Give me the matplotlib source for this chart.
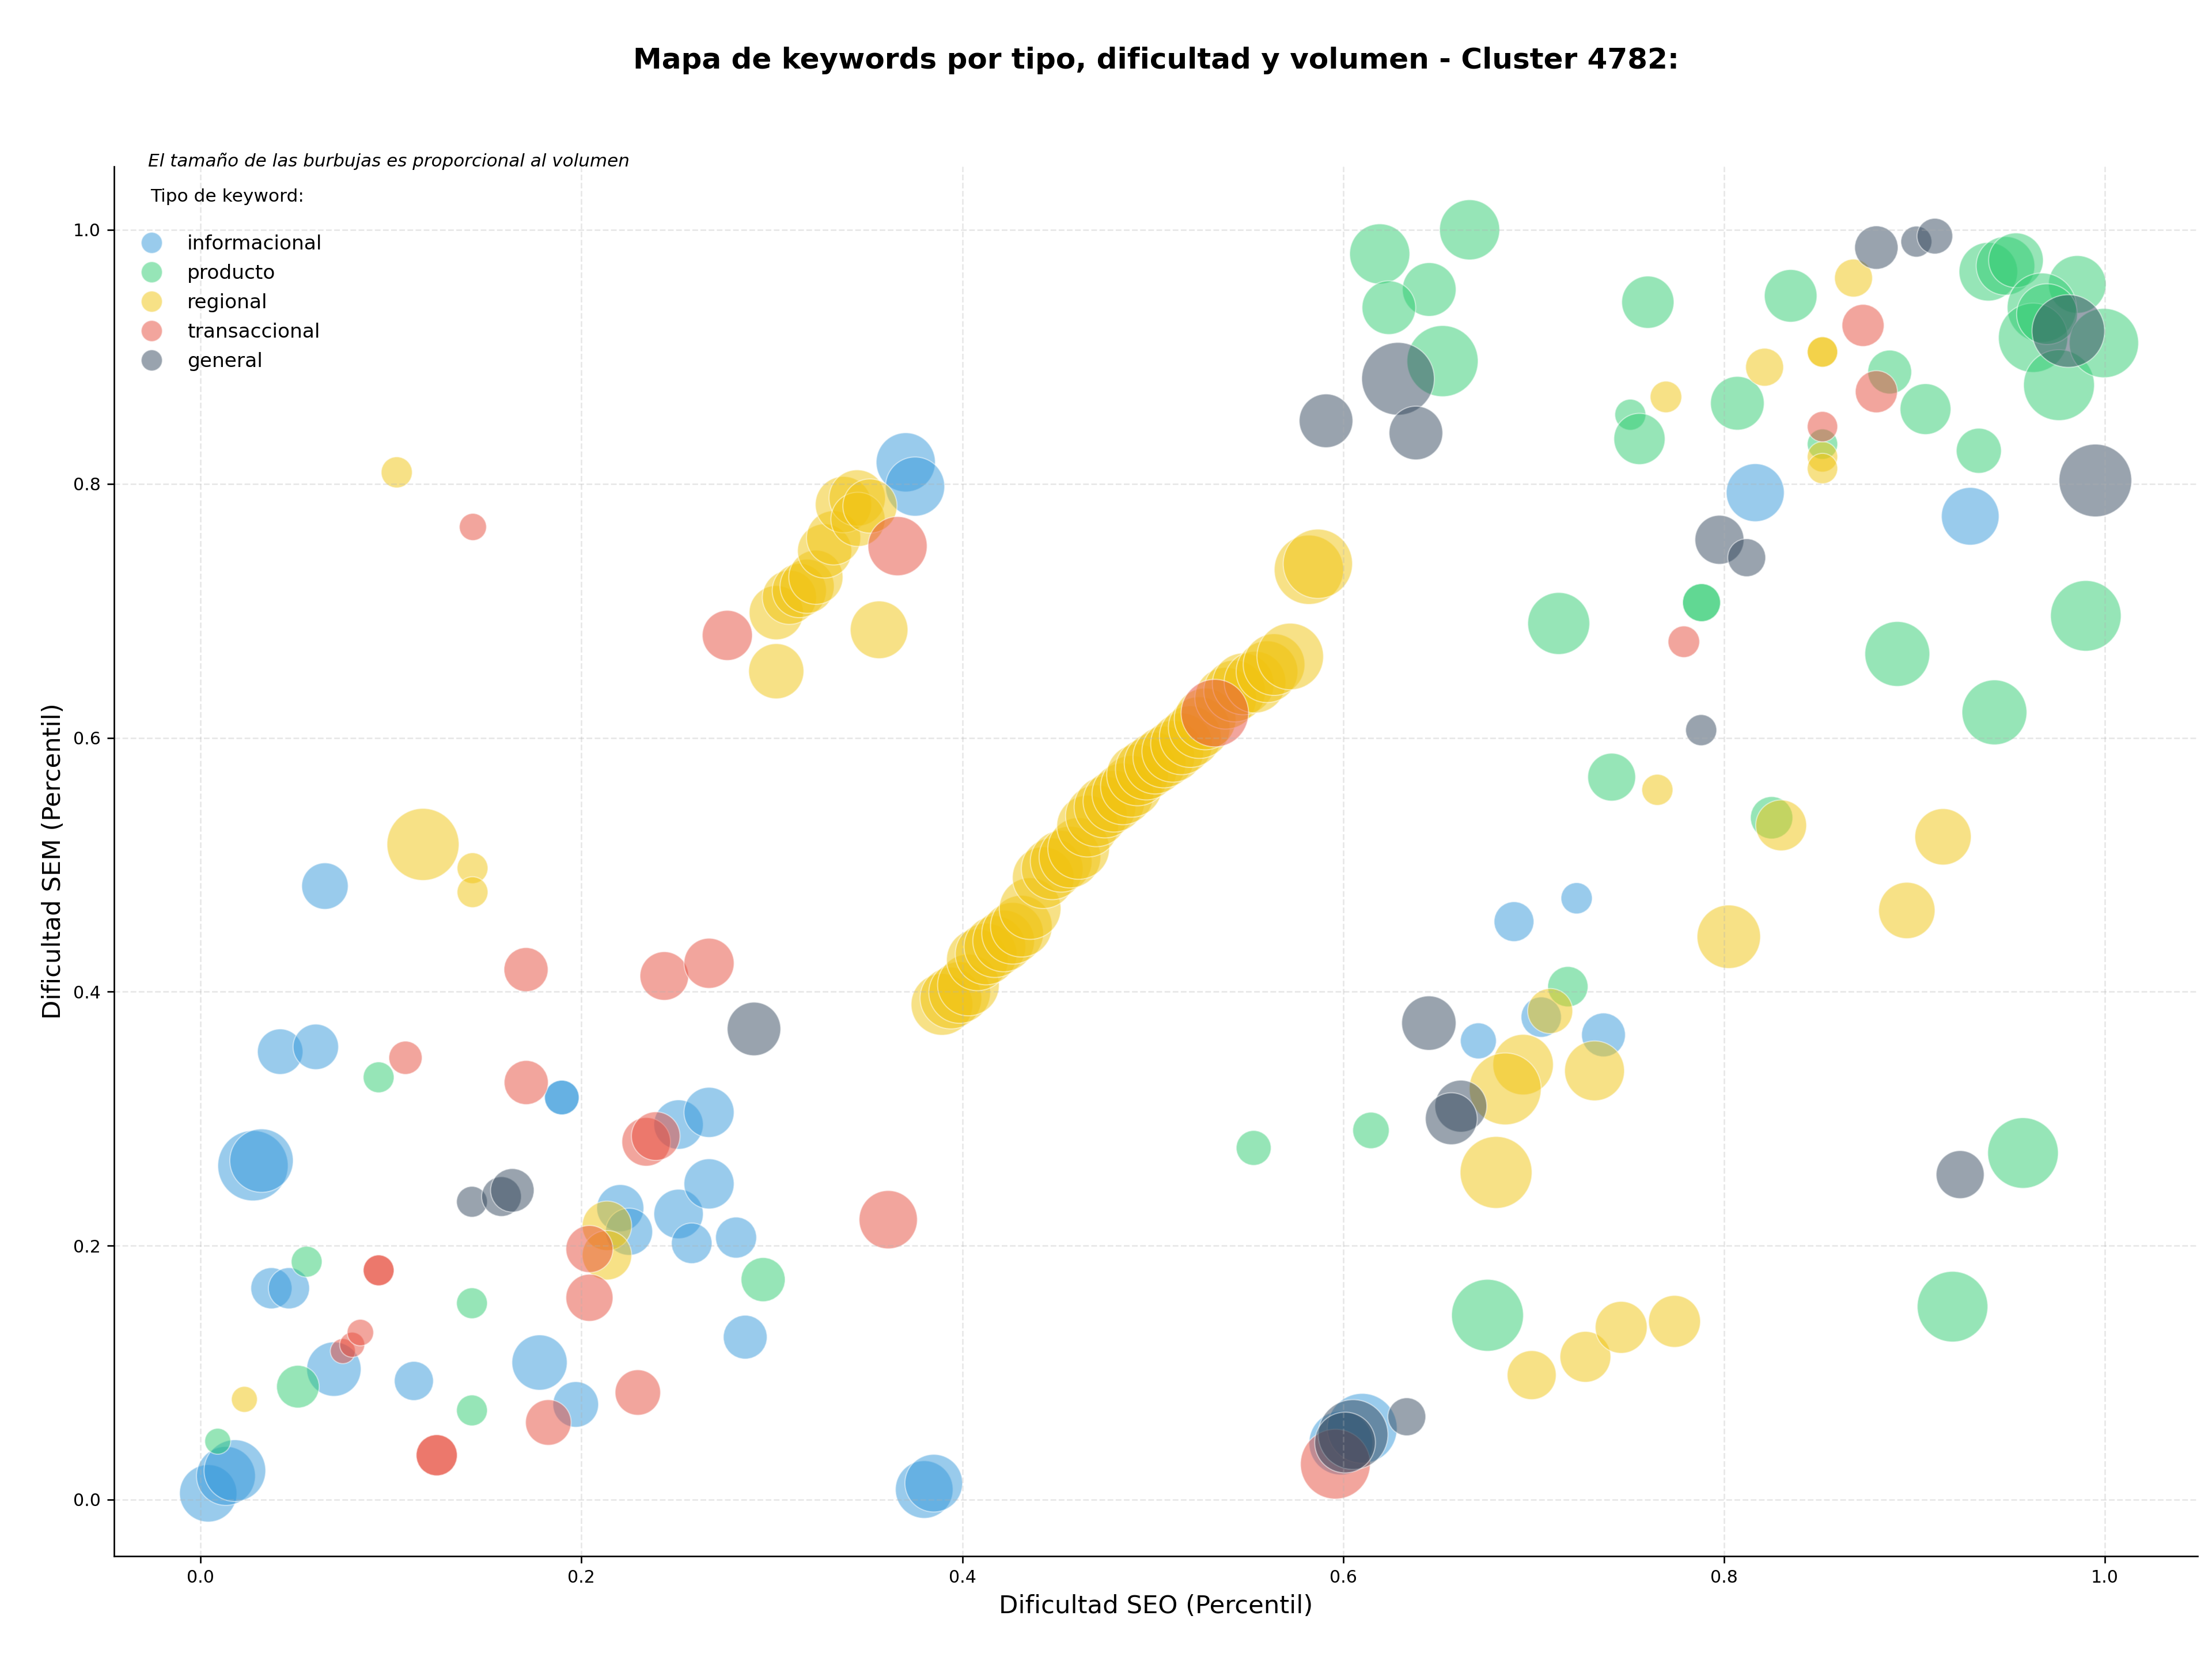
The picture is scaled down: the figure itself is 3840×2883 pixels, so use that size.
import matplotlib
matplotlib.use("Agg")
import matplotlib.pyplot as plt
from matplotlib.lines import Line2D
import numpy as np

# datos por tipo de keyword: dificultad SEO (x), dificultad SEM (y), volumen
info_x = [0.004, 0.0133, 0.018, 0.0275, 0.032, 0.0372, 0.0464, 0.0418, 0.0605, 0.0653,
          0.070, 0.112, 0.178, 0.197, 0.1897, 0.1897, 0.2204, 0.225, 0.251, 0.267,
          0.251, 0.267, 0.2579, 0.2812, 0.286, 0.3703, 0.3752, 0.380, 0.385, 0.5988,
          0.610, 0.6897, 0.7226, 0.704, 0.671, 0.7367, 0.8164, 0.9293]
info_y = [0.005, 0.0187, 0.0229, 0.263, 0.267, 0.1665, 0.1665, 0.3528, 0.3566, 0.4832,
          0.1028, 0.0935, 0.108, 0.075, 0.3167, 0.3167, 0.2296, 0.211, 0.2954, 0.305,
          0.225, 0.2487, 0.2019, 0.2064, 0.128, 0.8169, 0.7978, 0.008, 0.013, 0.0446,
          0.0562, 0.4552, 0.4736, 0.380, 0.3613, 0.366, 0.793, 0.7744]
info_vol = [890, 940, 1030, 1340, 1090, 459, 459, 560, 560, 585,
            800, 414, 827, 563, 324, 324, 600, 600, 661, 680,
            661, 680, 446, 456, 520, 948, 948, 900, 900, 1100,
            1320, 430, 265, 440, 350, 520, 910, 900]

prod_x = [0.009, 0.0511, 0.0557, 0.0935, 0.1425, 0.1425, 0.2954, 0.553, 0.6146, 0.6758,
          0.6664, 0.6192, 0.6452, 0.624, 0.6522, 0.760, 0.7508, 0.7556, 0.7132, 0.741,
          0.718, 0.807, 0.7882, 0.7882, 0.825, 0.835, 0.8517, 0.887, 0.9058, 0.9338,
          0.891, 0.942, 0.990, 0.957, 0.920, 0.9388, 0.9478, 0.9533, 0.9855, 0.9669,
          0.9623, 0.9696, 0.9759, 0.9995]
prod_y = [0.046, 0.089, 0.1874, 0.3326, 0.1547, 0.0703, 0.1733, 0.277, 0.2908, 0.1452,
          1.000, 0.981, 0.953, 0.9387, 0.8966, 0.943, 0.8544, 0.8353, 0.690, 0.569,
          0.404, 0.8634, 0.7064, 0.7064, 0.537, 0.948, 0.8312, 0.888, 0.8588, 0.826,
          0.666, 0.620, 0.696, 0.273, 0.152, 0.967, 0.9716, 0.976, 0.957, 0.9387,
          0.915, 0.9336, 0.8777, 0.9108]
prod_vol = [182, 492, 258, 258, 258, 258, 527, 330, 360, 1400,
            980, 980, 780, 780, 1370, 740, 260, 710, 1040, 620,
            440, 780, 390, 390, 486, 750, 250, 520, 700, 550,
            1140, 1140, 1350, 1350, 1350, 930, 930, 810, 900, 1300,
            1300, 1000, 1360, 1300]

reg_x = [0.023, 0.103, 0.1168, 0.1428, 0.1428, 0.2134, 0.2134, 0.3023, 0.3563,
         0.3023, 0.3092, 0.3144, 0.3185, 0.3231, 0.3277, 0.3324, 0.3376, 0.3448, 0.3452, 0.3515,
         0.3893, 0.394, 0.3986, 0.4032, 0.4079, 0.4125, 0.4171, 0.4217, 0.4264, 0.431,
         0.4356, 0.4425, 0.4472, 0.4519, 0.4565, 0.4611, 0.4658, 0.4704, 0.4749, 0.4796,
         0.4843, 0.4888, 0.492, 0.4966, 0.5012, 0.5058, 0.5105, 0.5151, 0.5197, 0.5244,
         0.5275, 0.5383, 0.543, 0.5475, 0.5537, 0.560, 0.5637, 0.5722,
         0.582, 0.5867,
         0.8025, 0.7087, 0.6945, 0.6851, 0.732, 0.6803, 0.699, 0.7272, 0.746, 0.774,
         0.765, 0.830, 0.896, 0.915, 0.7695, 0.8213, 0.8517, 0.8517, 0.868, 0.8517, 0.8517]
reg_y = [0.079, 0.809, 0.516, 0.4973, 0.4784, 0.2157, 0.1925, 0.6524, 0.685,
         0.6985, 0.7106, 0.7159, 0.7193, 0.7264, 0.7471, 0.7574, 0.7836, 0.7888, 0.772, 0.7825,
         0.390, 0.395, 0.3994, 0.4053, 0.4251, 0.4297, 0.4355, 0.440, 0.446, 0.4516,
         0.4655, 0.4898, 0.4968, 0.5027, 0.506, 0.5128, 0.5304, 0.5385, 0.5454, 0.550,
         0.5558, 0.5617, 0.5707, 0.5753, 0.580, 0.5848, 0.5893, 0.5952, 0.6009, 0.608,
         0.6148, 0.6311, 0.6368, 0.6424, 0.6438, 0.652, 0.6576, 0.664,
         0.7323, 0.737,
         0.4433, 0.3848, 0.3426, 0.3235, 0.3377, 0.2577, 0.0981, 0.1125, 0.1357, 0.1404,
         0.559, 0.531, 0.464, 0.522, 0.8684, 0.8918, 0.9038, 0.9038, 0.962, 0.8212, 0.812]
reg_vol = [182, 262, 1406, 258, 258, 661, 661, 825, 900,
           795, 795, 795, 795, 795, 795, 795, 860, 860, 795, 795,
           1030, 1030, 1030, 1030, 1030, 1030, 1030, 1030, 1030, 1030,
           1030, 1030, 1030, 1030, 1030, 1030, 1030, 1030, 1030, 1030,
           1030, 1030, 1030, 1030, 1030, 1030, 1030, 1030, 1030, 1030,
           1030, 1030, 1030, 1030, 1030, 1030, 1030, 1200,
           1300, 1300,
           1090, 550, 990, 1400, 970, 1400, 650, 700, 730, 730,
           262, 700, 860, 860, 270, 390, 250, 250, 390, 250, 250]

trans_x = [0.0747, 0.0796, 0.0839, 0.0935, 0.0935, 0.1076, 0.143, 0.1709, 0.171, 0.124,
           0.124, 0.1826, 0.2042, 0.2042, 0.2296, 0.234, 0.239, 0.2435, 0.267, 0.2766,
           0.366, 0.3611, 0.5326, 0.5959, 0.7789, 0.873, 0.880, 0.8517]
trans_y = [0.117, 0.122, 0.1316, 0.1806, 0.1806, 0.348, 0.766, 0.4174, 0.3285, 0.035,
           0.035, 0.0608, 0.1974, 0.159, 0.0844, 0.2818, 0.2863, 0.4124, 0.4224, 0.6806,
           0.7509, 0.2205, 0.6194, 0.028, 0.6756, 0.9247, 0.8725, 0.845]
trans_vol = [170, 170, 190, 258, 258, 300, 200, 527, 527, 459,
             459, 563, 600, 600, 560, 640, 640, 640, 680, 680,
             948, 920, 1235, 1320, 270, 480, 480, 250]

gen_x = [0.1425, 0.158, 0.1637, 0.2906, 0.591, 0.6288, 0.6382, 0.645, 0.6618, 0.6568,
         0.6334, 0.6052, 0.601, 0.7976, 0.8119, 0.788, 0.880, 0.901, 0.9107, 0.9808,
         0.995, 0.924]
gen_y = [0.2346, 0.2387, 0.2436, 0.3707, 0.8496, 0.8827, 0.840, 0.3753, 0.3099, 0.300,
         0.0653, 0.0513, 0.045, 0.7559, 0.7418, 0.606, 0.986, 0.9907, 0.995, 0.9203,
         0.8026, 0.256]
gen_vol = [258, 428, 513, 776, 780, 1430, 780, 800, 730, 730,
           390, 1320, 1000, 650, 390, 262, 510, 260, 345, 1430,
           1430, 624]

tipos = ["informacional", "producto", "regional", "transaccional", "general"]
colores = {"informacional": "#3498db", "producto": "#2ecc71", "regional": "#f1c40f",
           "transaccional": "#e74c3c", "general": "#34495e"}
series = {
    "informacional": (info_x, info_y, info_vol),
    "producto": (prod_x, prod_y, prod_vol),
    "regional": (reg_x, reg_y, reg_vol),
    "transaccional": (trans_x, trans_y, trans_vol),
    "general": (gen_x, gen_y, gen_vol),
}

fig, ax = plt.subplots(figsize=(16, 12.0125), dpi=240)
fig.subplots_adjust(left=0.0516, right=0.9935, top=0.8998, bottom=0.0631)

escala = 1.0
for t in tipos:
    xs, ys, vol = series[t]
    ax.scatter(xs, ys, s=np.array(vol) * escala, c=colores[t], alpha=0.5,
               edgecolors="white", linewidths=0.6, label=t)

ax.set_xlim(-0.0454, 1.0487)
ax.set_ylim(-0.0445, 1.0499)
ax.set_xticks([0.0, 0.2, 0.4, 0.6, 0.8, 1.0])
ax.set_yticks([0.0, 0.2, 0.4, 0.6, 0.8, 1.0])
ax.tick_params(labelsize=9)
ax.grid(True, linestyle="--", alpha=0.3)
ax.spines["top"].set_visible(False)
ax.spines["right"].set_visible(False)

ax.set_xlabel("Dificultad SEO (Percentil)", fontsize=13)
ax.set_ylabel("Dificultad SEM (Percentil)", fontsize=13)
ax.set_title("Mapa de keywords por tipo, dificultad y volumen - Cluster 4782:",
             fontsize=15, fontweight="bold", pad=51)

ax.text(0.0163, 1.0, "El tamaño de las burbujas es proporcional al volumen",
        transform=ax.transAxes, fontsize=9.3, style="italic", va="baseline")

handles = [Line2D([0], [0], marker="o", linestyle="", markersize=11,
                  markerfacecolor=colores[t], markeredgecolor="white",
                  markeredgewidth=0.6, alpha=0.5) for t in tipos]
ax.legend(handles, tipos, loc="upper left", bbox_to_anchor=(0, 0.997),
          frameon=False, fontsize=10.3, labelspacing=0.52,
          title="Tipo de keyword:\n", title_fontsize=9.4)

fig.savefig("out.png", dpi=240)
